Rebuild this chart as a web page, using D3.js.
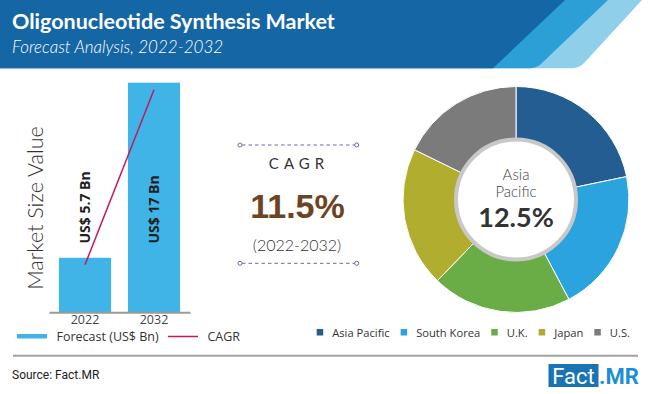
<!DOCTYPE html>
<html>
<head>
<meta charset="utf-8">
<script src="https://cdnjs.cloudflare.com/ajax/libs/d3/7.8.5/d3.min.js"></script>
<style>
  body { margin: 0; background: #fff; }
  svg { display: block; font-family: Lato, "Open Sans", sans-serif; }
</style>
</head>
<body>
<div id="container"></div>
<script>
// data
const years = ['2022', '2032'];
const marketValues = [5.7, 17];
const marketLabels = ['US$ 5.7 Bn', 'US$ 17 Bn'];
const cagrText = '11.5%';
const regions = ['Asia Pacific', 'South Korea', 'U.K.', 'Japan', 'U.S.'];
const regionShares = [21.75, 20.5, 20, 20, 17.75];
const regionColors = ['#245d91', '#2aa3de', '#6aac46', '#b1ad2f', '#7b7b7b'];

const width = 650, height = 394;

const svg = d3.select('#container')
  .append('svg')
  .attr('width', width)
  .attr('height', height);

// 1. header band with stripes
const header = svg.append('g');
header.append('path')
  .attr('d', 'M0,0 H642 L585,62 Q580,68 572,68.3 H0 Z')
  .attr('fill', '#8fcfea');
header.append('path')
  .attr('d', 'M0,0 H608 L543,62 Q538,68 530,68.3 H0 Z')
  .attr('fill', '#2b9fd6');
header.append('path')
  .attr('d', 'M0,0 H565 L493,68.3 H0 Z')
  .attr('fill', '#1566a5');

header.append('text')
  .attr('x', 12)
  .attr('y', 28.5)
  .attr('fill', '#fff')
  .attr('font-size', 21.5)
  .attr('font-weight', 700)
  .text('Oligonucleotide Synthesis Market');

header.append('text')
  .attr('x', 12)
  .attr('y', 53.3)
  .attr('fill', '#fff')
  .attr('font-size', 17)
  .attr('font-style', 'italic')
  .attr('font-weight', 300)
  .text('Forecast Analysis, 2022-2032');

// 2. bar chart
const barColor = '#40b4e6';
const lineColor = '#c4175f';

let xScale = d3.scaleBand()
  .domain(years)
  .range([49, 190])
  .paddingInner(0.244)
  .paddingOuter(0.144);

// baseline of the picture is not at zero
let yScale = d3.scaleLinear()
  .domain([2.18, 17])
  .range([312.3, 82.7]);

const bars = svg.append('g');

bars.selectAll('rect')
  .data(marketValues)
  .enter()
  .append('rect')
  .attr('x', (d, i) => xScale(years[i]))
  .attr('y', d => yScale(d))
  .attr('width', xScale.bandwidth())
  .attr('height', d => yScale.range()[0] - yScale(d))
  .attr('fill', barColor);

const xAxis = svg.append('g')
  .attr('transform', `translate(0,${yScale.range()[0]})`)
  .call(d3.axisBottom(xScale).tickSize(0).tickPadding(3));
xAxis.select('.domain').attr('stroke', '#9a9a9a').attr('stroke-width', 2);
xAxis.selectAll('text')
  .attr('font-size', 12.5)
  .attr('fill', '#444')
  .attr('font-family', '"Open Sans", sans-serif');

// CAGR line from bar to bar
const lineGenerator = d3.line()
  .x((d, i) => xScale(years[i]) + xScale.bandwidth() / 2)
  .y(d => yScale(d) + 7);

svg.append('path')
  .attr('d', lineGenerator(marketValues))
  .attr('fill', 'none')
  .attr('stroke', lineColor)
  .attr('stroke-width', 1.5);

// value labels inside bars
bars.selectAll('.val')
  .data(marketLabels)
  .enter()
  .append('text')
  .attr('class', 'val')
  .attr('transform', (d, i) =>
    `translate(${xScale(years[i]) + xScale.bandwidth() / 2 + 5},243.5) rotate(-90)`)
  .attr('font-size', 14)
  .attr('font-weight', 700)
  .attr('fill', '#1f1f1f')
  .attr('font-family', '"Open Sans", sans-serif')
  .text(d => d);

svg.append('text')
  .attr('transform', 'translate(35,208) rotate(-90)')
  .attr('text-anchor', 'middle')
  .attr('dominant-baseline', 'central')
  .attr('font-size', 21.5)
  .attr('font-weight', 300)
  .attr('fill', '#333')
  .text('Market Size Value');

// bar legend
const barLegend = svg.append('g');
barLegend.append('rect')
  .attr('x', 17).attr('y', 334)
  .attr('width', 30).attr('height', 4.5)
  .attr('fill', barColor);
barLegend.append('text')
  .attr('x', 56.5).attr('y', 336.5)
  .attr('dominant-baseline', 'central')
  .attr('font-size', 12.5)
  .attr('fill', '#333')
  .attr('font-family', '"Open Sans", sans-serif')
  .text('Forecast (US$ Bn)');
barLegend.append('line')
  .attr('x1', 168).attr('x2', 198)
  .attr('y1', 336.5).attr('y2', 336.5)
  .attr('stroke', lineColor)
  .attr('stroke-width', 1.5);
barLegend.append('text')
  .attr('x', 207.5).attr('y', 336.5)
  .attr('dominant-baseline', 'central')
  .attr('font-size', 12.5)
  .attr('fill', '#333')
  .attr('font-family', '"Open Sans", sans-serif')
  .text('CAGR');

// 3. CAGR block in the middle
const cagr = svg.append('g');
[145, 263.3].forEach(y => {
  cagr.append('line')
    .attr('x1', 242).attr('x2', 355)
    .attr('y1', y).attr('y2', y)
    .attr('stroke', '#6b6aa6')
    .attr('stroke-width', 1)
    .attr('stroke-dasharray', '3.5,3');
  [240, 356.7].forEach(x => {
    cagr.append('circle')
      .attr('cx', x).attr('cy', y).attr('r', 2)
      .attr('fill', '#fff')
      .attr('stroke', '#6b6aa6')
      .attr('stroke-width', 1);
  });
});
cagr.append('text')
  .attr('x', 299).attr('y', 162.5)
  .attr('text-anchor', 'middle')
  .attr('dominant-baseline', 'central')
  .attr('font-size', 15)
  .attr('letter-spacing', 5)
  .attr('fill', '#333')
  .text('CAGR');
cagr.append('text')
  .attr('x', 297.5).attr('y', 206)
  .attr('text-anchor', 'middle')
  .attr('dominant-baseline', 'central')
  .attr('font-size', 34)
  .attr('font-weight', 700)
  .attr('fill', '#6b4423')
  .attr('font-family', '"Liberation Sans", Arial, sans-serif')
  .text(cagrText);
cagr.append('text')
  .attr('x', 297).attr('y', 244)
  .attr('text-anchor', 'middle')
  .attr('dominant-baseline', 'central')
  .attr('font-size', 16)
  .attr('font-weight', 300)
  .attr('fill', '#333')
  .text('(2022-2032)');

// 4. donut chart
const cx = 516, cy = 199.5;
const pie = d3.pie().sort(null).value(d => d);
const arc = d3.arc().innerRadius(58).outerRadius(113);

const donut = svg.append('g').attr('transform', `translate(${cx},${cy})`);
donut.selectAll('path')
  .data(pie(regionShares))
  .enter()
  .append('path')
  .attr('d', arc)
  .attr('fill', (d, i) => regionColors[i])
  .attr('stroke', '#fff')
  .attr('stroke-width', 1);

donut.append('circle')
  .attr('r', 60)
  .attr('fill', '#fff')
  .attr('stroke', '#c8c8c8')
  .attr('stroke-width', 4);

donut.append('text')
  .attr('y', 173.5 - cy)
  .attr('text-anchor', 'middle')
  .attr('dominant-baseline', 'central')
  .attr('font-size', 15)
  .attr('font-weight', 300)
  .attr('fill', '#444')
  .text('Asia');
donut.append('text')
  .attr('y', 190.5 - cy)
  .attr('text-anchor', 'middle')
  .attr('dominant-baseline', 'central')
  .attr('font-size', 15)
  .attr('font-weight', 300)
  .attr('fill', '#444')
  .text('Pacific');
donut.append('text')
  .attr('y', 216 - cy)
  .attr('text-anchor', 'middle')
  .attr('dominant-baseline', 'central')
  .attr('font-size', 27)
  .attr('font-weight', 700)
  .attr('fill', '#333')
  .text('12.5%');

// donut legend, items laid out left to right
const regLegend = svg.append('g');
let lx = 316.7;
regions.forEach((r, i) => {
  regLegend.append('rect')
    .attr('x', lx).attr('y', 329)
    .attr('width', 6.5).attr('height', 6.5)
    .attr('fill', regionColors[i]);
  const t = regLegend.append('text')
    .attr('x', lx + 15.5).attr('y', 332.5)
    .attr('dominant-baseline', 'central')
    .attr('font-size', 11.2)
    .attr('fill', '#333')
    .attr('font-family', '"Open Sans", sans-serif')
    .text(r);
  lx += 15.5 + t.node().getComputedTextLength() + 11;
});

// 5. footer
svg.append('line')
  .attr('x1', 13).attr('x2', 638)
  .attr('y1', 355.7).attr('y2', 355.7)
  .attr('stroke', '#a3a3a3')
  .attr('stroke-width', 2);

svg.append('text')
  .attr('x', 12).attr('y', 375)
  .attr('dominant-baseline', 'central')
  .attr('font-size', 12)
  .attr('fill', '#222')
  .attr('font-family', '"Liberation Sans Narrow", "Roboto", sans-serif')
  .text('Source: Fact.MR');

const logo = svg.append('g');
logo.append('rect')
  .attr('x', 548.5).attr('y', 364)
  .attr('width', 50).attr('height', 23)
  .attr('fill', '#1a74b3');
logo.append('text')
  .attr('x', 573.5).attr('y', 376)
  .attr('text-anchor', 'middle')
  .attr('dominant-baseline', 'central')
  .attr('font-size', 22)
  .attr('fill', '#fff')
  .attr('font-family', '"Liberation Sans Narrow", "Roboto", sans-serif')
  .text('Fact');
logo.append('text')
  .attr('x', 599).attr('y', 376)
  .attr('dominant-baseline', 'central')
  .attr('font-size', 22)
  .attr('font-weight', 700)
  .attr('fill', '#1b8fd4')
  .attr('font-family', '"Liberation Sans Narrow", "Roboto", sans-serif')
  .text('.MR');
</script>
</body>
</html>
